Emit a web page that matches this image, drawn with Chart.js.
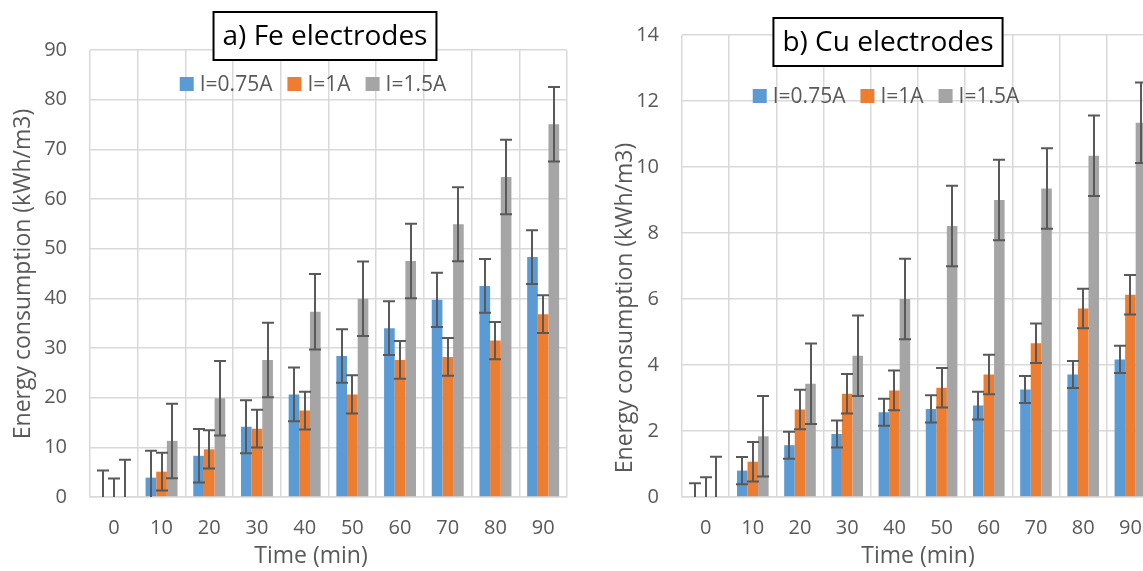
<!DOCTYPE html>
<html>
<head>
<meta charset="utf-8">
<script src="https://cdn.jsdelivr.net/npm/chart.js@4.4.1/dist/chart.umd.min.js"></script>
<style>
html,body{margin:0;padding:0;background:#fff;overflow:hidden;width:1143px;height:571px;}
#feBox{position:absolute;left:0;top:0;}
#cuBox{position:absolute;left:580px;top:0;}
</style>
</head>
<body>
<div id="feBox"><canvas id="feChart" width="580" height="571"></canvas></div>
<div id="cuBox"><canvas id="cuChart" width="600" height="571"></canvas></div>
<script>

// categories + series names
const timeLabels = ['0','10','20','30','40','50','60','70','80','90'];
const seriesNames = ['I=0.75A','I=1A','I=1.5A'];
const seriesColors = ['#5B9BD5','#ED7D31','#A5A5A5'];

// a) Fe electrodes
const feLow  = [0, 3.9, 8.3, 14.15, 20.65, 28.4, 34.0, 39.7, 42.5, 48.3];
const feMid  = [0, 5.1, 9.6, 13.75, 17.4, 20.65, 27.6, 28.2, 31.5, 36.8];
const feHigh = [0, 11.3, 19.9, 27.6, 37.3, 39.9, 47.5, 54.9, 64.45, 75.05];
const feLowErr  = [5.35, 5.4, 5.4, 5.35, 5.4, 5.4, 5.4, 5.45, 5.4, 5.4];
const feMidErr  = [3.75, 3.8, 3.85, 3.8, 3.8, 3.85, 3.8, 3.8, 3.75, 3.8];
const feHighErr = [7.5, 7.5, 7.5, 7.5, 7.6, 7.5, 7.5, 7.45, 7.5, 7.5];

// b) Cu electrodes
const cuLow  = [0, 0.8, 1.57, 1.91, 2.57, 2.67, 2.77, 3.26, 3.71, 4.17];
const cuMid  = [0, 1.07, 2.65, 3.13, 3.23, 3.31, 3.71, 4.66, 5.71, 6.13];
const cuHigh = [0, 1.84, 3.43, 4.28, 6.0, 8.21, 9.0, 9.35, 10.34, 11.34];
const cuLowErr  = [0.42, 0.41, 0.41, 0.41, 0.41, 0.41, 0.42, 0.41, 0.41, 0.41];
const cuMidErr  = [0.6, 0.6, 0.6, 0.6, 0.6, 0.6, 0.6, 0.6, 0.6, 0.6];
const cuHighErr = [1.22, 1.22, 1.22, 1.22, 1.22, 1.22, 1.22, 1.22, 1.22, 1.22];

const FONT = "'Open Sans', sans-serif";
const TEXT_GREY = '#595959';

Chart.defaults.font.family = FONT;
Chart.defaults.color = TEXT_GREY;

// draws +/- error bars on top of every bar
const errorBarPlugin = {
id:'errorBars',
afterDatasetsDraw(chart, args, opts){
const ctx = chart.ctx;
const area = chart.chartArea;
const yScale = chart.scales.y;
ctx.save();
ctx.strokeStyle = opts.color;
ctx.lineWidth = opts.lineWidth;
chart.data.datasets.forEach((ds, di) => {
const meta = chart.getDatasetMeta(di);
meta.data.forEach((bar, i) => {
const v = ds.data[i];
const e = ds.errors[i];
const yTop = yScale.getPixelForValue(v + e);
const yBot = yScale.getPixelForValue(v - e);
const x = Math.round(bar.x);
const y1 = Math.max(yTop, area.top);
const y2 = Math.min(yBot, area.bottom);
ctx.beginPath();
ctx.moveTo(x, y1);
ctx.lineTo(x, y2);
if(yTop >= area.top){
ctx.moveTo(x - opts.cap, yTop);
ctx.lineTo(x + opts.cap, yTop);
}
if(yBot <= area.bottom){
ctx.moveTo(x - opts.cap, yBot);
ctx.lineTo(x + opts.cap, yBot);
}
ctx.stroke();
});
});
ctx.restore();
}
};

// boxed panel title, legend inside the plot, axis titles
const decorPlugin = {
id:'decor',
afterDraw(chart, args, o){
const ctx = chart.ctx;
ctx.save();

// axis titles
ctx.fillStyle = TEXT_GREY;
ctx.font = '23px ' + FONT;
ctx.textAlign = 'center';
ctx.textBaseline = 'middle';
ctx.fillText(o.xTitle, o.xTitlePos[0], o.xTitlePos[1]);
ctx.save();
ctx.translate(o.yTitlePos[0], o.yTitlePos[1]);
ctx.rotate(-Math.PI / 2);
ctx.fillText(o.yTitle, 0, 0);
ctx.restore();

// legend
ctx.font = '21px ' + FONT;
ctx.textAlign = 'left';
const sq = 14, gapText = 6, gapItem = 15;
const items = chart.data.datasets.map(ds => ({
label: ds.label,
color: ds.backgroundColor,
w: ctx.measureText(ds.label).width
}));
let total = 0;
items.forEach((it, i) => {
total += sq + gapText + it.w + (i < items.length - 1 ? gapItem : 0);
});
let lx = o.legendPos[0] - total / 2;
const ly = o.legendPos[1];
items.forEach(it => {
ctx.fillStyle = it.color;
ctx.fillRect(lx, ly - sq / 2, sq, sq);
lx += sq + gapText;
ctx.fillStyle = TEXT_GREY;
ctx.fillText(it.label, lx, ly + 1);
lx += it.w + gapItem;
});

// boxed title
ctx.font = '28px ' + FONT;
ctx.textAlign = 'center';
const tw = ctx.measureText(o.title).width;
const bw = tw + 18, bh = 48;
const bx = o.titlePos[0] - bw / 2;
const by = o.titlePos[1] - bh / 2;
ctx.fillStyle = '#ffffff';
ctx.fillRect(bx, by, bw, bh);
ctx.strokeStyle = '#000000';
ctx.lineWidth = 2;
ctx.strokeRect(bx, by, bw, bh);
ctx.fillStyle = '#000000';
ctx.fillText(o.title, o.titlePos[0], o.titlePos[1] + 1);

ctx.restore();
}
};

function buildPanel(canvasId, values, errors, yMax, yStep, look){

const datasets = seriesNames.map((name, i) => ({
label:name,
data:values[i],
errors:errors[i],
backgroundColor:seriesColors[i],
borderWidth:0,
categoryPercentage:0.67,
barPercentage:1.0
}));

const ctx =
document
.getElementById(canvasId)
.getContext('2d');

return new Chart(ctx,{

type:'bar',

data:{
labels:timeLabels,
datasets:datasets
},

options:{
responsive:false,
animation:false,
layout:{
padding:{left:0, top:look.top, right:look.right, bottom:0}
},
scales:{
x:{
grid:{color:'#d9d9d9', lineWidth:1.5, drawTicks:false, offset:true},
border:{display:true, color:'#d9d9d9', width:1.5},
ticks:{font:{size:20}, color:TEXT_GREY, padding:19, maxRotation:0},
afterFit(scale){ scale.height = 74; }
},
y:{
min:0,
max:yMax,
grid:{color:'#d9d9d9', lineWidth:1.5, drawTicks:false},
border:{display:false},
ticks:{stepSize:yStep, font:{size:20}, color:TEXT_GREY, padding:23},
afterFit(scale){ scale.width = look.axisWidth; }
}
},
plugins:{
legend:{display:false},
tooltip:{enabled:false},
errorBars:{color:'#595959', lineWidth:2, cap:6},
decor:look.decor
}
},

plugins:[errorBarPlugin, decorPlugin]

});
}

buildPanel(
'feChart',
[feLow, feMid, feHigh],
[feLowErr, feMidErr, feHighErr],
90, 10,
{
top:50, right:13, axisWidth:90,
decor:{
title:'a) Fe electrodes', titlePos:[325, 36],
legendPos:[313, 84],
xTitle:'Time (min)', xTitlePos:[311, 556],
yTitle:'Energy consumption (kWh/m3)', yTitlePos:[23, 274]
}
}
);

buildPanel(
'cuChart',
[cuLow, cuMid, cuHigh],
[cuLowErr, cuMidErr, cuHighErr],
14, 2,
{
top:32, right:26, axisWidth:102,
decor:{
title:'b) Cu electrodes', titlePos:[308, 42],
legendPos:[306, 96],
xTitle:'Time (min)', xTitlePos:[338, 556],
yTitle:'Energy consumption (kWh/m3)', yTitlePos:[45, 308]
}
}
);

</script>
</body>
</html>
